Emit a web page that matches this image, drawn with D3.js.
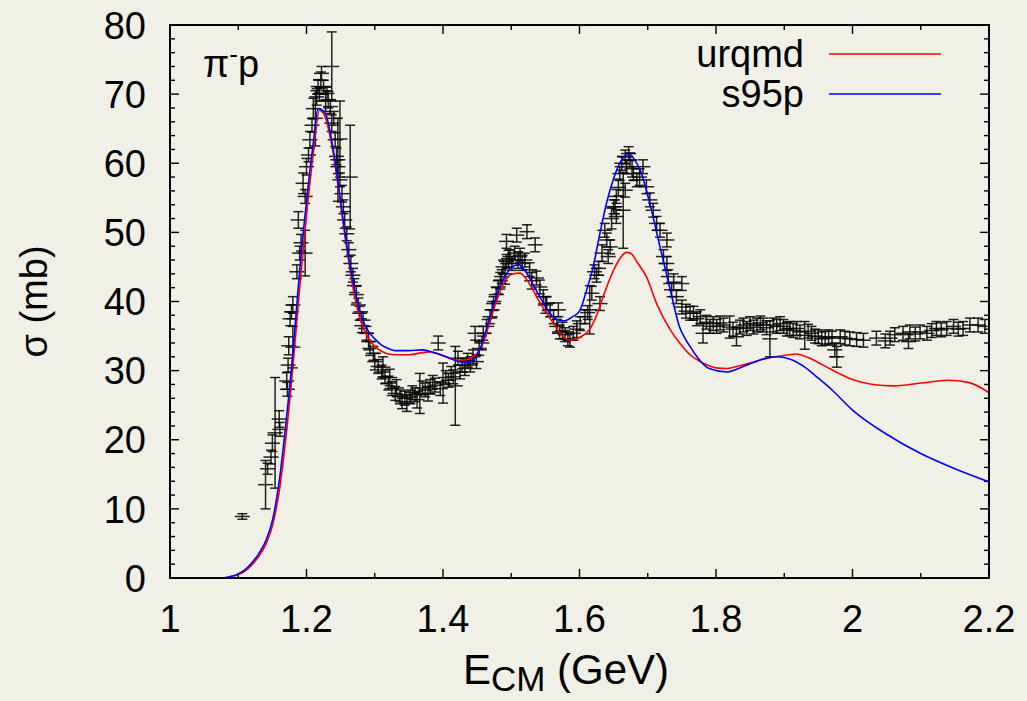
<!DOCTYPE html>
<html>
<head>
<meta charset="utf-8">
<script src="https://cdn.jsdelivr.net/npm/d3@7"></script>
<style>
  body { margin: 0; background: #f1f0e6; }
  svg { display: block; }
  text { font-family: "Liberation Sans", Arial, sans-serif; fill: #000; }
</style>
</head>
<body>
<svg id="chart" width="1027" height="701"></svg>
<script>
// pi- p total cross section: measured points (E_CM in GeV, sigma in mb, sigma error)
const dataE = [
  1.106, 1.140, 1.143, 1.148, 1.150, 1.154, 1.160, 1.161, 1.171, 1.172,
  1.173, 1.174, 1.180, 1.176, 1.178, 1.180, 1.186, 1.190, 1.192, 1.198,
  1.188, 1.195, 1.198, 1.200, 1.203, 1.205, 1.208, 1.210, 1.213, 1.215,
  1.217, 1.219, 1.221, 1.222, 1.225, 1.228, 1.230, 1.232, 1.235, 1.237,
  1.237, 1.240, 1.242, 1.244, 1.246, 1.246, 1.249, 1.249, 1.252, 1.254,
  1.256, 1.259, 1.264, 1.262, 1.265, 1.268, 1.270, 1.273, 1.276, 1.278,
  1.281, 1.283, 1.288, 1.291, 1.293, 1.298, 1.300, 1.305, 1.310, 1.312,
  1.315, 1.320, 1.322, 1.325, 1.330, 1.332, 1.337, 1.340, 1.344, 1.347,
  1.352, 1.355, 1.359, 1.362, 1.366, 1.370, 1.374, 1.378, 1.381, 1.385,
  1.388, 1.393, 1.396, 1.400, 1.404, 1.408, 1.412, 1.415, 1.418, 1.422,
  1.425, 1.428, 1.432, 1.436, 1.440, 1.444, 1.447, 1.449, 1.453, 1.457,
  1.459, 1.464, 1.469, 1.472, 1.474, 1.478, 1.481, 1.484, 1.486, 1.488,
  1.491, 1.493, 1.493, 1.496, 1.498, 1.501, 1.505, 1.508, 1.510, 1.513,
  1.516, 1.520, 1.523, 1.527, 1.530, 1.535, 1.537, 1.542, 1.547, 1.550,
  1.552, 1.557, 1.562, 1.567, 1.569, 1.571, 1.575, 1.579, 1.583, 1.586,
  1.591, 1.596, 1.601, 1.608, 1.612, 1.615, 1.618, 1.622, 1.625, 1.628,
  1.630, 1.633, 1.637, 1.640, 1.642, 1.645, 1.647, 1.650, 1.652, 1.654,
  1.654, 1.657, 1.659, 1.662, 1.664, 1.667, 1.667, 1.669, 1.672, 1.674,
  1.677, 1.679, 1.684, 1.688, 1.693, 1.698, 1.703, 1.708, 1.713, 1.718,
  1.723, 1.728, 1.728, 1.730, 1.735, 1.738, 1.742, 1.750, 1.750, 1.756,
  1.762, 1.767, 1.772, 1.777, 1.781, 1.786, 1.791, 1.796, 1.801, 1.806,
  1.811, 1.820, 1.825, 1.830, 1.835, 1.840, 1.845, 1.850, 1.855, 1.860,
  1.865, 1.869, 1.874, 1.879, 1.884, 1.889, 1.894, 1.899, 1.904, 1.908,
  1.913, 1.918, 1.923, 1.930, 1.935, 1.940, 1.945, 1.950, 1.955, 1.960,
  1.965, 1.970, 1.974, 1.977, 1.982, 1.989, 1.996, 2.006, 2.016, 2.035,
  2.048, 2.055, 2.062, 2.074, 2.082, 2.084, 2.092, 2.099, 2.109, 2.116,
  2.123, 2.130, 2.138, 2.148, 2.155, 2.162, 2.172, 2.184, 2.194
];
const dataSigma = [
  8.9, 13.5, 15.8, 17.5, 19.5, 21.0, 23.0, 21.5, 28.5, 27.3,
  30.8, 33.6, 33.4, 37.5, 38.5, 39.5, 44.3, 47.0, 48.5, 47.0,
  51.8, 57.1, 55.2, 59.5, 61.2, 63.4, 65.5, 67.9, 66.5, 69.6,
  71.1, 70.0, 72.0, 73.0, 71.0, 69.0, 70.1, 69.2, 68.2, 74.0,
  65.8, 66.5, 63.4, 61.0, 59.5, 60.5, 57.6, 63.5, 55.6, 53.7,
  51.8, 49.8, 58.0, 47.5, 45.5, 43.8, 42.3, 41.0, 39.5, 38.3,
  36.5, 37.3, 35.4, 34.2, 33.2, 32.5, 31.3, 30.6, 29.8, 30.5,
  29.1, 28.2, 29.0, 27.4, 26.7, 27.5, 26.2, 25.5, 26.0, 25.3,
  26.2, 26.8, 26.5, 25.8, 26.7, 27.5, 27.2, 26.6, 27.7, 28.3,
  27.9, 34.0, 27.4, 28.2, 29.0, 28.6, 29.6, 29.1, 27.8, 31.8,
  29.8, 30.8, 30.3, 31.5, 30.8, 32.0, 35.4, 31.3, 33.2, 34.0,
  35.4, 36.4, 37.8, 38.8, 39.7, 41.0, 42.1, 43.0, 43.6, 45.0,
  44.0, 45.8, 48.7, 46.2, 46.5, 45.5, 47.0, 49.6, 46.0, 46.7,
  45.5, 46.0, 50.1, 44.6, 43.0, 48.2, 43.4, 42.1, 40.7, 39.5,
  39.7, 38.8, 37.8, 36.4, 38.8, 35.6, 35.8, 35.2, 34.6, 34.4,
  35.4, 36.0, 36.8, 37.8, 38.4, 38.8, 41.2, 44.3, 43.8, 44.8,
  39.7, 47.0, 50.3, 48.9, 46.5, 47.9, 52.0, 53.7, 53.7, 55.2,
  52.3, 56.5, 58.5, 60.0, 53.2, 60.9, 56.1, 59.5, 61.4, 60.5,
  59.2, 58.5, 57.6, 58.0, 59.5, 56.6, 54.7, 53.2, 51.3, 50.3,
  46.5, 48.9, 45.5, 43.6, 41.7, 42.8, 40.7, 42.6, 39.2, 38.6,
  38.3, 38.3, 37.5, 37.8, 35.4, 37.0, 36.4, 36.8, 36.4, 36.9,
  36.6, 36.3, 36.0, 34.9, 36.3, 36.6, 36.1, 36.8, 36.3, 36.6,
  36.9, 36.6, 36.2, 34.6, 36.6, 36.4, 36.8, 36.4, 36.0, 36.1,
  35.8, 36.1, 35.6, 35.1, 35.7, 35.4, 35.0, 34.9, 34.6, 34.7,
  34.9, 34.7, 33.0, 32.0, 34.9, 34.7, 34.6, 34.5, 34.4, 34.7,
  34.3, 34.7, 35.2, 35.4, 34.2, 35.6, 35.3, 35.6, 35.4, 35.8,
  36.1, 35.9, 36.1, 36.4, 36.0, 36.1, 36.6, 36.6, 36.4
];
const dataErr = [
  0.4, 3.5, 0.8, 1.0, 1.2, 8.0, 1.2, 1.0, 1.2, 1.0,
  1.0, 1.3, 3.0, 1.0, 1.0, 1.2, 1.0, 1.0, 1.2, 3.3,
  1.2, 1.5, 1.0, 1.2, 1.0, 1.2, 1.0, 1.5, 4.0, 1.2,
  1.0, 1.0, 1.2, 1.0, 1.0, 1.5, 1.0, 1.2, 1.0, 5.0,
  1.2, 1.0, 1.0, 1.2, 1.0, 6.0, 1.0, 5.5, 1.2, 1.0,
  1.2, 1.0, 7.5, 1.0, 1.2, 1.0, 1.0, 1.2, 1.0, 1.0,
  1.0, 1.2, 1.0, 1.2, 1.0, 1.0, 1.2, 1.0, 1.0, 1.5,
  1.0, 1.0, 1.2, 1.0, 1.0, 1.2, 1.0, 1.0, 1.0, 1.2,
  1.0, 1.0, 1.0, 1.2, 2.9, 1.0, 1.0, 1.0, 1.0, 1.0,
  1.0, 1.0, 1.0, 2.9, 1.0, 1.0, 1.0, 1.0, 5.7, 1.0,
  1.0, 1.0, 1.0, 1.0, 1.0, 1.0, 1.0, 1.0, 1.0, 1.0,
  1.0, 1.0, 1.0, 1.2, 1.0, 1.0, 1.0, 1.2, 1.0, 1.0,
  1.5, 1.0, 1.0, 1.2, 1.0, 1.0, 1.0, 1.0, 1.2, 1.0,
  1.0, 1.0, 1.0, 1.0, 1.2, 1.0, 1.0, 1.0, 1.0, 1.2,
  1.0, 1.0, 1.0, 1.0, 1.0, 1.0, 1.2, 1.0, 1.0, 1.0,
  1.0, 1.2, 1.0, 1.0, 1.0, 3.5, 1.0, 1.0, 1.0, 1.0,
  1.0, 1.2, 1.0, 1.0, 1.0, 1.0, 1.5, 1.0, 1.0, 1.0,
  1.0, 1.2, 1.0, 1.0, 5.5, 1.0, 1.0, 1.0, 1.0, 1.0,
  1.2, 1.0, 1.0, 1.2, 1.0, 1.0, 1.0, 1.0, 1.0, 1.0,
  1.0, 1.0, 1.0, 1.0, 1.0, 1.2, 1.0, 1.0, 1.0, 1.0,
  1.0, 1.0, 1.0, 1.0, 1.4, 1.0, 1.0, 1.0, 1.0, 1.0,
  1.0, 1.6, 1.0, 1.3, 1.0, 1.0, 1.0, 1.0, 1.0, 1.0,
  1.0, 1.0, 1.0, 2.6, 1.0, 1.0, 1.0, 1.0, 1.0, 1.0,
  1.0, 1.0, 1.0, 2.0, 1.0, 1.0, 1.0, 1.0, 1.0, 1.0,
  1.0, 1.0, 1.0, 1.5, 1.0, 1.0, 1.0, 1.0, 1.0, 1.0,
  1.0, 1.0, 1.0, 1.0, 1.0, 1.0, 1.0, 1.0, 1.0, 1.0,
  1.0, 1.0, 1.0, 1.0, 1.0, 1.0, 1.0, 1.0, 1.0
];
const energyErr = 0.011;

// model curves
const urqmdE = [
  1.08, 1.09, 1.10, 1.11, 1.12, 1.13, 1.14, 1.15, 1.16, 1.17,
  1.18, 1.19, 1.20, 1.21, 1.219, 1.225, 1.24, 1.25, 1.26, 1.27,
  1.28, 1.29, 1.30, 1.31, 1.32, 1.33, 1.35, 1.37, 1.38, 1.39,
  1.40, 1.41, 1.425, 1.44, 1.45, 1.46, 1.47, 1.48, 1.49, 1.50,
  1.513, 1.52, 1.53, 1.54, 1.55, 1.56, 1.57, 1.58, 1.586, 1.60,
  1.615, 1.625, 1.635, 1.645, 1.655, 1.662, 1.669, 1.676, 1.685, 1.698,
  1.713, 1.733, 1.75, 1.762, 1.777, 1.79, 1.80, 1.816, 1.83, 1.85,
  1.875, 1.90, 1.918, 1.935, 1.957, 1.98, 2.00, 2.03, 2.06, 2.10,
  2.14, 2.17, 2.20
];
const urqmdSigma = [
  0.0, 0.2, 0.5, 1.0, 1.9, 3.1, 4.8, 7.5, 12.5, 20.5,
  30.5, 42.0, 52.5, 61.5, 67.7, 67.2, 61.0, 54.0, 47.0, 41.0,
  37.0, 34.8, 33.5, 32.8, 32.4, 32.3, 32.3, 32.6, 32.7, 32.5,
  32.1, 31.8, 31.5, 31.8, 32.5, 34.3, 37.5, 40.5, 42.8, 43.9,
  44.1, 43.5, 42.0, 40.2, 38.6, 37.1, 35.6, 34.6, 34.4, 34.8,
  36.0, 38.0, 40.8, 43.4, 45.5, 46.6, 47.1, 46.9, 45.6, 43.6,
  39.7, 35.9, 33.6, 32.3, 31.3, 30.7, 30.4, 30.3, 30.6, 31.1,
  31.8, 32.2, 32.4, 31.9, 30.8, 29.6, 28.7, 28.0, 27.8, 28.2,
  28.6, 28.3, 26.8
];
const s95pE = [
  1.078, 1.09, 1.10, 1.11, 1.12, 1.13, 1.14, 1.15, 1.16, 1.17,
  1.18, 1.19, 1.20, 1.21, 1.217, 1.227, 1.24, 1.25, 1.26, 1.27,
  1.28, 1.29, 1.30, 1.31, 1.32, 1.33, 1.35, 1.37, 1.38, 1.39,
  1.40, 1.41, 1.42, 1.435, 1.445, 1.455, 1.465, 1.475, 1.485, 1.495,
  1.505, 1.512, 1.52, 1.53, 1.54, 1.55, 1.56, 1.57, 1.578, 1.59,
  1.60, 1.61, 1.62, 1.63, 1.64, 1.65, 1.66, 1.669, 1.675, 1.68,
  1.689, 1.703, 1.718, 1.733, 1.747, 1.755, 1.762, 1.77, 1.777, 1.79,
  1.816, 1.83, 1.85, 1.87, 1.89, 1.91, 1.93, 1.95, 1.97, 2.00,
  2.05, 2.10, 2.15, 2.20
];
const s95pSigma = [
  0.0, 0.25, 0.6, 1.2, 2.2, 3.5, 5.3, 8.3, 14.0, 22.5,
  32.5, 44.5, 54.5, 63.0, 67.9, 67.3, 61.5, 54.5, 47.5, 42.0,
  38.0, 35.8, 34.6, 33.7, 33.2, 32.9, 32.9, 33.0, 32.8, 32.5,
  32.2, 31.8, 31.4, 31.1, 31.6, 33.3, 36.5, 39.8, 42.5, 44.3,
  45.2, 45.3, 44.5, 42.8, 41.0, 39.3, 37.9, 37.3, 37.2, 37.8,
  38.6, 41.5, 45.0, 49.9, 54.4, 57.8, 60.2, 61.2, 61.2, 60.6,
  59.0, 54.2, 47.9, 41.7, 36.2, 34.6, 33.5, 32.3, 31.4, 30.3,
  29.8, 30.2, 31.0, 31.7, 32.0, 31.6, 30.5, 28.9, 27.2, 24.3,
  20.8, 18.0, 15.8, 13.9
];

const seriesNames = ["urqmd", "s95p"];
const seriesColors = ["#ff0000", "#0000ff"];

const xTickValues = [1, 1.2, 1.4, 1.6, 1.8, 2, 2.2];
const xTickLabels = ["1", "1.2", "1.4", "1.6", "1.8", "2", "2.2"];
const yTickValues = [0, 10, 20, 30, 40, 50, 60, 70, 80];
const yTickLabels = ["0", "10", "20", "30", "40", "50", "60", "70", "80"];

const svg = d3.select("#chart");
const plot = { left: 170, right: 989, top: 25, bottom: 578 };

const x = d3.scaleLinear().domain([1, 2.2]).range([plot.left, plot.right]);
const y = d3.scaleLinear().domain([0, 80]).range([plot.bottom, plot.top]);

svg.append("rect").attr("width", 1027).attr("height", 701).attr("fill", "#f1f0e6");

svg.append("defs").append("clipPath").attr("id", "plotClip")
  .append("rect")
  .attr("x", plot.left).attr("y", plot.top)
  .attr("width", plot.right - plot.left).attr("height", plot.bottom - plot.top);

// tick marks (inward) on all four sides
const majorLen = 9, minorLen = 5;
const xMinor = d3.range(11, 22, 2).map(v => v / 10);
const yMinor = d3.range(0, 81, 2).filter(v => v % 10 !== 0);

const axes = svg.append("g");
const tickG = axes.append("g").attr("stroke", "#000").attr("stroke-width", 1.4);

function xTicks(vals, len) {
  vals.forEach(v => {
    tickG.append("line").attr("x1", x(v)).attr("x2", x(v))
      .attr("y1", plot.bottom).attr("y2", plot.bottom - len);
    tickG.append("line").attr("x1", x(v)).attr("x2", x(v))
      .attr("y1", plot.top).attr("y2", plot.top + len);
  });
}
function yTicks(vals, len) {
  vals.forEach(v => {
    tickG.append("line").attr("y1", y(v)).attr("y2", y(v))
      .attr("x1", plot.left).attr("x2", plot.left + len);
    tickG.append("line").attr("y1", y(v)).attr("y2", y(v))
      .attr("x1", plot.right).attr("x2", plot.right - len);
  });
}
xTicks(xTickValues, majorLen);
xTicks(xMinor, minorLen);
yTicks(yTickValues, majorLen);
yTicks(yMinor, minorLen);

// tick labels
axes.append("g").selectAll("text").data(xTickValues).join("text")
  .attr("x", d => x(d)).attr("y", 632)
  .attr("text-anchor", "middle").attr("font-size", 38)
  .text((d, i) => xTickLabels[i]);

axes.append("g").selectAll("text").data(yTickValues).join("text")
  .attr("x", 146).attr("y", d => y(d)).attr("dy", "0.36em")
  .attr("text-anchor", "end").attr("font-size", 38)
  .text((d, i) => yTickLabels[i]);

// axis titles
svg.append("text")
  .attr("transform", `translate(47,${(plot.top + plot.bottom) / 2}) rotate(-90)`)
  .attr("text-anchor", "middle").attr("font-size", 38)
  .text("σ (mb)");

const xTitle = svg.append("text")
  .attr("x", 566).attr("y", 684)
  .attr("text-anchor", "middle").attr("font-size", 42);
xTitle.append("tspan").text("E");
xTitle.append("tspan").attr("font-size", 35).attr("dy", 7).text("CM");
xTitle.append("tspan").attr("dy", -7).text(" (GeV)");

// measured points with error bars
const points = dataE.map((e, i) => ({ e, s: dataSigma[i], err: dataErr[i] }));
const dataG = svg.append("g").attr("clip-path", "url(#plotClip)")
  .attr("stroke", "#000").attr("stroke-width", 1.5).attr("stroke-opacity", 0.85);
const cap = 5;
points.forEach(p => {
  const cx = x(p.e), cy = y(p.s);
  const yTop = y(p.s + p.err), yBot = y(p.s - p.err);
  dataG.append("line").attr("x1", x(p.e - energyErr)).attr("x2", x(p.e + energyErr))
    .attr("y1", cy).attr("y2", cy);
  dataG.append("line").attr("x1", cx).attr("x2", cx).attr("y1", yTop).attr("y2", yBot);
  dataG.append("line").attr("x1", cx - cap).attr("x2", cx + cap).attr("y1", yTop).attr("y2", yTop);
  dataG.append("line").attr("x1", cx - cap).attr("x2", cx + cap).attr("y1", yBot).attr("y2", yBot);
});

// model curves
const line = d3.line().x(d => x(d[0])).y(d => y(d[1])).curve(d3.curveMonotoneX);
const curveData = [
  urqmdE.map((e, i) => [e, urqmdSigma[i]]),
  s95pE.map((e, i) => [e, s95pSigma[i]])
];
const curveG = svg.append("g").attr("clip-path", "url(#plotClip)");
curveData.forEach((pts, i) => {
  curveG.append("path").datum(pts)
    .attr("d", line).attr("fill", "none")
    .attr("stroke", seriesColors[i]).attr("stroke-width", 1.6);
});

// frame
svg.append("rect")
  .attr("x", plot.left).attr("y", plot.top)
  .attr("width", plot.right - plot.left).attr("height", plot.bottom - plot.top)
  .attr("fill", "none").attr("stroke", "#000").attr("stroke-width", 2);

// legend
const legend = svg.append("g");
seriesNames.forEach((name, i) => {
  const ly = 54 + i * 40;
  legend.append("text").attr("x", 804).attr("y", ly).attr("dy", "0.35em")
    .attr("text-anchor", "end").attr("font-size", 38).text(name);
  legend.append("line").attr("x1", 829).attr("x2", 941).attr("y1", ly).attr("y2", ly)
    .attr("stroke", seriesColors[i]).attr("stroke-width", 1.6);
});

// reaction label
const react = svg.append("text").attr("x", 203).attr("y", 77).attr("font-size", 38);
react.append("tspan").text("π");
react.append("tspan").attr("font-size", 26).attr("dy", -14).text("-");
react.append("tspan").attr("dy", 14).text("p");
</script>
</body>
</html>
